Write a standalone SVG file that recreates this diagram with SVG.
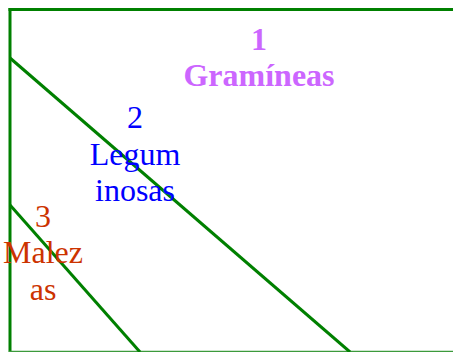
<svg xmlns="http://www.w3.org/2000/svg" width="453" height="352" viewBox="0 0 453 352">
<style>
.ln{stroke:#008000;stroke-width:3;fill:none}
.t{font-family:"Liberation Serif",serif;font-size:32px;text-anchor:middle}
</style>
<rect width="453" height="352" fill="#fff"/>
<g id="connectors">
<line class="ln" x1="8.5" y1="9.5" x2="453" y2="9.5"/>
<line class="ln" x1="10" y1="8" x2="10" y2="352"/>
<line x1="9" y1="351.5" x2="453" y2="351.5" stroke="#3c9a3c" stroke-width="1.5"/>
<line class="ln" x1="10" y1="58" x2="350" y2="352"/>
<line class="ln" x1="10" y1="205" x2="140" y2="352"/>
</g>
<g id="n1" class="t" fill="#cc66ff" font-weight="bold">
<text x="259" y="50">1</text>
<text x="259" y="86">Gramíneas</text>
</g>
<g id="n2" class="t" fill="#0000ff">
<text x="135" y="128">2</text>
<text x="135" y="165">Legum</text>
<text x="135" y="201">inosas</text>
</g>
<g id="n3" class="t" fill="#cc3300">
<text x="43" y="227">3</text>
<text x="43" y="263">Malez</text>
<text x="43" y="300">as</text>
</g>
</svg>
